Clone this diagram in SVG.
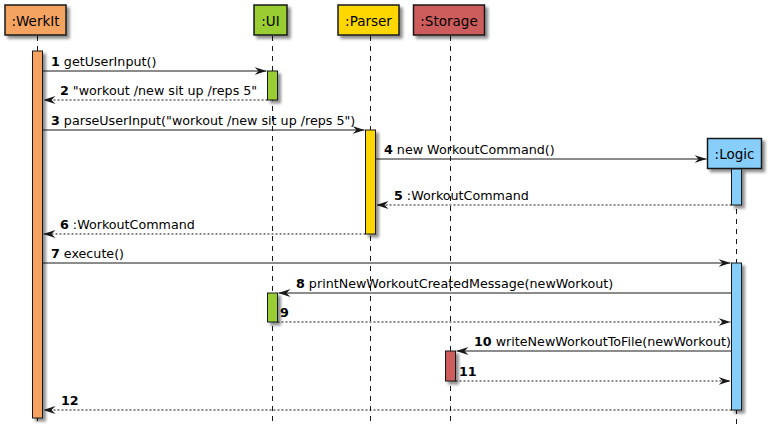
<svg xmlns="http://www.w3.org/2000/svg" width="774" height="434" viewBox="0 0 774 434">
<style>
.box{stroke:#181818;stroke-width:1.5}
.life{stroke:#181818;stroke-width:1;stroke-dasharray:5,5;fill:none}
.act{stroke:#181818;stroke-width:1}
.msg{stroke:#181818;stroke-width:1;fill:none}
.ret{stroke:#181818;stroke-width:1;stroke-dasharray:2,2;fill:none}
.pt{font-family:"DejaVu Sans",Verdana,sans-serif;font-size:13.5px;fill:#000;text-anchor:middle}
.lb{font-family:"DejaVu Sans",Verdana,sans-serif;font-size:12.7px;fill:#000}
.n{font-weight:bold}
</style>
<defs>
<filter id="sh" x="-50%" y="-50%" width="200%" height="200%">
<feGaussianBlur in="SourceAlpha" stdDeviation="1.5"/>
<feOffset dx="3" dy="3" result="b"/>
<feComponentTransfer><feFuncA type="linear" slope="0.45"/></feComponentTransfer>
<feMerge><feMergeNode/><feMergeNode in="SourceGraphic"/></feMerge>
</filter>
<marker id="ah" viewBox="0 0 12 10" refX="12" refY="5" markerWidth="12" markerHeight="10" markerUnits="userSpaceOnUse" orient="auto">
<polygon points="0,1 12,5 0,9 4,5" fill="#181818"/>
</marker>
</defs>

<g id="lifelines">
<line class="life" x1="37.5" y1="36" x2="37.5" y2="426"/>
<line class="life" x1="272.5" y1="36" x2="272.5" y2="426"/>
<line class="life" x1="370.5" y1="36" x2="370.5" y2="426"/>
<line class="life" x1="450.5" y1="36" x2="450.5" y2="426"/>
<line class="life" x1="736.5" y1="169" x2="736.5" y2="426"/>
</g>

<g id="WerkIt">
<rect class="box" x="5" y="5" width="61" height="30" fill="#F4A460" filter="url(#sh)"/>
<text class="pt" x="35.5" y="25.5">:WerkIt</text>
<rect class="act" x="32.5" y="51" width="10" height="367" fill="#F4A460" filter="url(#sh)"/>
</g>
<g id="UI">
<rect class="box" x="254" y="5" width="33" height="30" fill="#9ACD32" filter="url(#sh)"/>
<text class="pt" x="270.5" y="25.5">:UI</text>
<rect class="act" x="267.5" y="71" width="10" height="29" fill="#9ACD32" filter="url(#sh)"/>
<rect class="act" x="267.5" y="293" width="10" height="29" fill="#9ACD32" filter="url(#sh)"/>
</g>
<g id="Parser">
<rect class="box" x="338" y="5" width="61" height="30" fill="#FFD700" filter="url(#sh)"/>
<text class="pt" x="368.5" y="25.5">:Parser</text>
<rect class="act" x="365.5" y="130" width="10" height="104" fill="#FFD700" filter="url(#sh)"/>
</g>
<g id="Storage">
<rect class="box" x="413.5" y="5" width="71" height="30" fill="#CD5C5C" filter="url(#sh)"/>
<text class="pt" x="449" y="25.5">:Storage</text>
<rect class="act" x="445.5" y="351" width="10" height="30" fill="#CD5C5C" filter="url(#sh)"/>
</g>
<g id="Logic">
<rect class="box" x="707.5" y="138.5" width="54" height="30" fill="#87CEFA" filter="url(#sh)"/>
<text class="pt" x="734.5" y="158.5">:Logic</text>
<rect class="act" x="731.5" y="169" width="10" height="36" fill="#87CEFA" filter="url(#sh)"/>
<rect class="act" x="731.5" y="263" width="10" height="147" fill="#87CEFA" filter="url(#sh)"/>
</g>

<g id="connectors">
<line class="msg" x1="42.5" y1="71" x2="266.5" y2="71" marker-end="url(#ah)"/>
<text class="lb" x="51" y="66"><tspan class="n">1</tspan> getUserInput()</text>

<line class="ret" x1="267.5" y1="100" x2="43.5" y2="100" marker-end="url(#ah)"/>
<text class="lb" x="60" y="95"><tspan class="n">2</tspan> "workout /new sit up /reps 5"</text>

<line class="msg" x1="42.5" y1="130" x2="364.5" y2="130" marker-end="url(#ah)"/>
<text class="lb" x="51" y="125"><tspan class="n">3</tspan> parseUserInput("workout /new sit up /reps 5")</text>

<line class="msg" x1="375.5" y1="159" x2="706.5" y2="159" marker-end="url(#ah)"/>
<text class="lb" x="384" y="154"><tspan class="n">4</tspan> new WorkoutCommand()</text>

<line class="ret" x1="731.5" y1="205" x2="376.5" y2="205" marker-end="url(#ah)"/>
<text class="lb" x="394" y="200"><tspan class="n">5</tspan> :WorkoutCommand</text>

<line class="ret" x1="365.5" y1="234" x2="43.5" y2="234" marker-end="url(#ah)"/>
<text class="lb" x="60" y="229"><tspan class="n">6</tspan> :WorkoutCommand</text>

<line class="msg" x1="42.5" y1="263" x2="730.5" y2="263" marker-end="url(#ah)"/>
<text class="lb" x="51" y="258"><tspan class="n">7</tspan> execute()</text>

<line class="msg" x1="731.5" y1="293" x2="278.5" y2="293" marker-end="url(#ah)"/>
<text class="lb" x="296" y="288"><tspan class="n">8</tspan> printNewWorkoutCreatedMessage(newWorkout)</text>

<line class="ret" x1="277.5" y1="322" x2="730.5" y2="322" marker-end="url(#ah)"/>
<text class="lb" x="280" y="317"><tspan class="n">9</tspan></text>

<line class="msg" x1="731.5" y1="351" x2="456.5" y2="351" marker-end="url(#ah)"/>
<text class="lb" x="474" y="346"><tspan class="n">10</tspan> writeNewWorkoutToFile(newWorkout)</text>

<line class="ret" x1="455.5" y1="381" x2="730.5" y2="381" marker-end="url(#ah)"/>
<text class="lb" x="459" y="376"><tspan class="n">11</tspan></text>

<line class="ret" x1="731.5" y1="410" x2="43.5" y2="410" marker-end="url(#ah)"/>
<text class="lb" x="61" y="405"><tspan class="n">12</tspan></text>
</g>
</svg>
